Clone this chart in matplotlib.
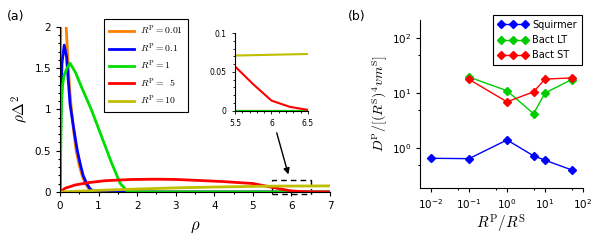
import numpy as np
import matplotlib
matplotlib.use('Agg')
import matplotlib.pyplot as plt
from matplotlib.patches import Rectangle
from matplotlib.ticker import MultipleLocator, FixedLocator, NullFormatter

plt.rcParams['mathtext.fontset'] = 'cm'
plt.rcParams['font.family'] = ['DejaVu Sans']

# panel (a): rho * Delta^2 profiles for several R^P
rho_001 = [0, 0.01, 0.03, 0.08, 0.12, 0.16, 0.2, 0.25, 0.3, 0.36, 0.42, 0.5, 0.58, 0.66, 0.75, 0.85, 0.95, 7.0]
val_001 = [0, 1.6, 2.2, 2.35, 2.25, 2.0, 1.65, 1.25, 0.98, 0.72, 0.5, 0.32, 0.19, 0.1, 0.04, 0.01, 0, 0]
rho_01 = [0, 0.02, 0.05, 0.11, 0.17, 0.26, 0.33, 0.39, 0.45, 0.52, 0.6, 0.69, 0.77, 0.85, 0.95, 7.0]
val_01 = [0, 0.9, 1.55, 1.78, 1.64, 1.07, 0.85, 0.67, 0.5, 0.35, 0.2, 0.105, 0.045, 0.012, 0, 0]
rho_1 = [0, 0.02, 0.04, 0.07, 0.1, 0.17, 0.26, 0.4, 0.56, 0.82, 1.08, 1.34, 1.56, 1.73, 1.85, 7.0]
val_1 = [0, 0.5, 1.1, 1.3, 1.4, 1.49, 1.56, 1.45, 1.27, 0.99, 0.67, 0.35, 0.105, 0.016, 0, 0]
rho_5 = [0, 0.13, 0.39, 0.73, 1.17, 1.86, 2.5, 3.0, 3.6, 4.2, 5.0, 5.5, 5.75, 6.0, 6.25, 6.5, 7.0]
val_5 = [0, 0.045, 0.085, 0.113, 0.137, 0.152, 0.155, 0.152, 0.14, 0.127, 0.103, 0.057, 0.034, 0.013, 0.005, 0.001, 0]
rho_10 = [0, 0.5, 1.0, 2.0, 3.0, 4.0, 5.0, 5.5, 6.0, 6.5, 7.0]
val_10 = [0, 0.01, 0.02, 0.036, 0.05, 0.06, 0.068, 0.071, 0.072, 0.073, 0.074]

curves_a = [
    (rho_001, val_001, '#FF8000', r'$R^{\rm P}=0.01$'),
    (rho_01, val_01, '#0000FF', r'$R^{\rm P}=0.1$'),
    (rho_1, val_1, '#00DD00', r'$R^{\rm P}=1$'),
    (rho_5, val_5, '#FF0000', r'$R^{\rm P}=\;\;5$'),
    (rho_10, val_10, '#BFBF00', r'$R^{\rm P}=10$'),
]

# panel (b): diffusion vs size ratio
ratio_sq = [0.01, 0.1, 1, 5, 10, 50]
d_sq = [0.65, 0.64, 1.4, 0.72, 0.6, 0.4]
ratio_bact = [0.1, 1, 5, 10, 50]
d_lt = [19.5, 11.0, 4.2, 10.0, 17.5]
d_st = [17.7, 6.9, 10.5, 17.9, 18.8]

fig = plt.figure(figsize=(5.98, 2.41), dpi=100)

# ---- panel (a)
ax = fig.add_axes([0.1003, 0.2033, 0.4515, 0.685])
for r, v, c, lab in curves_a:
    ax.plot(r, v, color=c, lw=2, label=lab)
ax.set_xlim(0, 7)
ax.set_ylim(0, 2)
ax.set_xticks(range(0, 8))
ax.set_yticks([0, 0.5, 1, 1.5, 2])
ax.set_yticklabels(['0', '0.5', '1', '1.5', '2'])
ax.xaxis.set_minor_locator(MultipleLocator(0.5))
ax.yaxis.set_minor_locator(MultipleLocator(0.1))
ax.tick_params(which='both', direction='out', labelsize=7.5, width=0.8)
ax.tick_params(which='major', length=3)
ax.tick_params(which='minor', length=1.5)
for s in ['top', 'right']:
    ax.spines[s].set_visible(False)
ax.set_xlabel(r'$\rho$', fontsize=12)
ax.set_ylabel(r'$\rho\Delta^2$', fontsize=11)
ax.xaxis.set_label_coords(0.5, -0.15)
ax.yaxis.set_label_coords(-0.11, 0.5)
leg = ax.legend(loc='upper left', bbox_to_anchor=(0.174, 0.921), bbox_transform=fig.transFigure,
                fontsize=7, handlelength=2.6, labelspacing=0.4, borderpad=0.5, borderaxespad=0,
                handletextpad=0.6, fancybox=False, framealpha=1, edgecolor='black')
leg.get_frame().set_linewidth(0.8)

ax.add_patch(Rectangle((5.5, -0.025), 1.0, 0.17, fill=False, ls=(0, (4, 3)), lw=1,
                       edgecolor='black', clip_on=False))
ax.annotate('', xy=(5.94, 0.18), xytext=(5.6, 0.75),
            arrowprops=dict(arrowstyle='-|>', color='black', lw=1, mutation_scale=9))

# inset
axi = fig.add_axes([0.393, 0.539, 0.122, 0.324])
for r, v, c, lab in curves_a:
    axi.plot(r, v, color=c, lw=1.5)
axi.set_xlim(5.5, 6.5)
axi.set_ylim(-0.0005, 0.1)
axi.set_xticks([5.5, 6, 6.5])
axi.set_xticklabels(['5.5', '6', '6.5'])
axi.set_yticks([0, 0.05, 0.1])
axi.set_yticklabels(['0', '0.05', '0.1'])
axi.xaxis.set_minor_locator(MultipleLocator(0.1))
axi.yaxis.set_minor_locator(MultipleLocator(0.01))
axi.tick_params(which='both', direction='out', labelsize=5.5, width=0.6)
axi.tick_params(which='major', length=2.5)
axi.tick_params(which='minor', length=1.2)
for s in ['top', 'right']:
    axi.spines[s].set_visible(False)

# ---- panel (b)
bx = fig.add_axes([0.7023, 0.22, 0.2726, 0.697])
bx.plot(ratio_sq, d_sq, color='#0000FF', lw=1, marker='D', ms=4, label='Squirmer')
bx.plot(ratio_bact, d_lt, color='#00CC00', lw=1, marker='D', ms=4, label='Bact LT')
bx.plot(ratio_bact, d_st, color='#FF0000', lw=1, marker='D', ms=4, label='Bact ST')
bx.set_xscale('log')
bx.set_yscale('log')
bx.set_xlim(10 ** -2.29, 100)
bx.set_ylim(10 ** -0.727, 10 ** 2.327)
bx.xaxis.set_major_locator(FixedLocator([1e-2, 1e-1, 1e0, 1e1, 1e2]))
bx.set_xticklabels([r'$\mathregular{10^{-2}}$', r'$\mathregular{10^{-1}}$', r'$\mathregular{10^{0}}$',
                    r'$\mathregular{10^{1}}$', r'$\mathregular{10^{2}}$'])
bx.xaxis.set_minor_locator(FixedLocator([5e-3, 5e-2, 5e-1, 5, 50]))
bx.xaxis.set_minor_formatter(NullFormatter())
bx.yaxis.set_major_locator(FixedLocator([1e0, 1e1, 1e2]))
bx.set_yticklabels([r'$\mathregular{10^{0}}$', r'$\mathregular{10^{1}}$', r'$\mathregular{10^{2}}$'])
bx.yaxis.set_minor_locator(FixedLocator([0.5, 5, 50]))
bx.yaxis.set_minor_formatter(NullFormatter())
bx.tick_params(which='both', direction='out', labelsize=7.5, width=0.8)
bx.tick_params(which='major', length=3)
bx.tick_params(which='minor', length=1.5)
for s in ['top', 'right']:
    bx.spines[s].set_visible(False)
bx.set_xlabel(r'$R^{\rm P}/R^{\rm S}$', fontsize=11)
bx.set_ylabel(r'$D^{\rm P}/[(R^{\rm S})^4 v m^{\rm S}]$', fontsize=10)
bx.xaxis.set_label_coords(0.5, -0.15)
bx.yaxis.set_label_coords(-0.185, 0.5)
legb = bx.legend(loc='upper right', bbox_to_anchor=(0.973, 0.938), bbox_transform=fig.transFigure,
                 fontsize=7, numpoints=3, handlelength=3, labelspacing=0.55, borderpad=0.5,
                 borderaxespad=0, handletextpad=0.5,
                 fancybox=False, framealpha=1, edgecolor='black')
legb.get_frame().set_linewidth(0.8)

fig.text(0.012, 0.93, '(a)', fontsize=9, va='center')
fig.text(0.582, 0.93, '(b)', fontsize=9, va='center')

fig.savefig('out.png', dpi=100)
